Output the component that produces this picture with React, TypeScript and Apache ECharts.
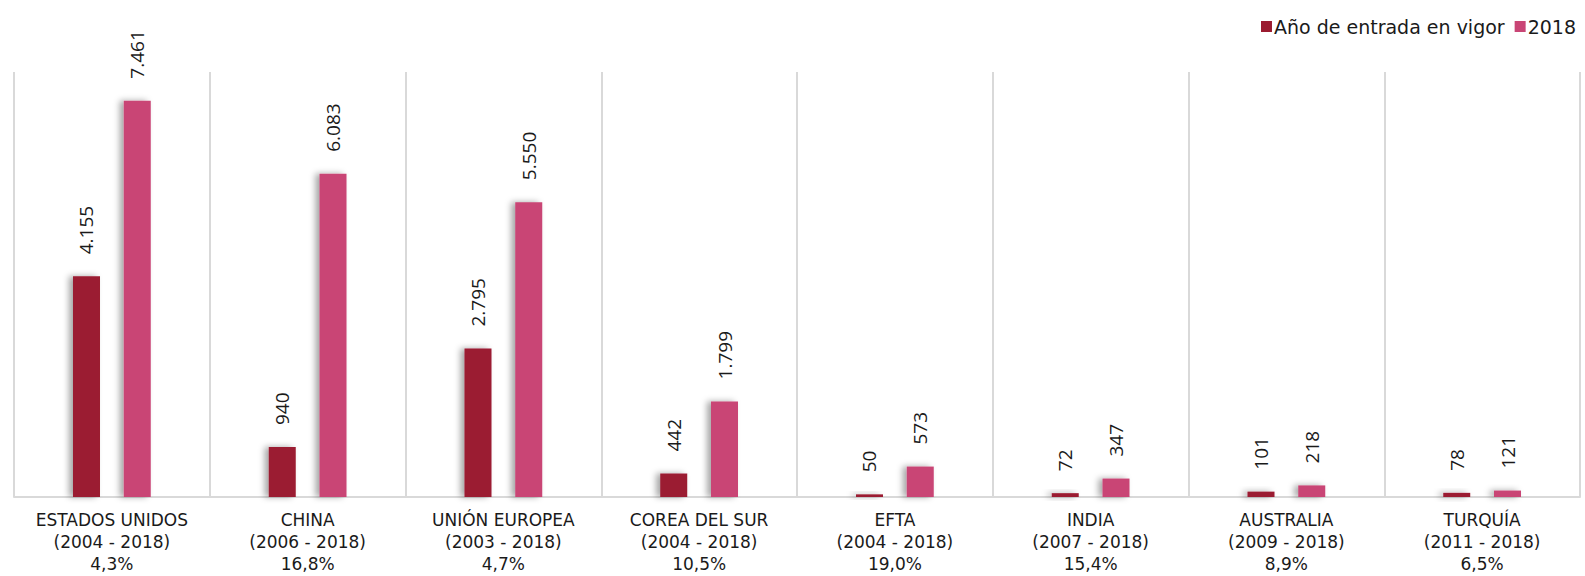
import React, { useEffect, useRef } from "react";
import * as echarts from "echarts";

const countries = ["ESTADOS UNIDOS", "CHINA", "UNIÓN EUROPEA", "COREA DEL SUR", "EFTA", "INDIA", "AUSTRALIA", "TURQUÍA"];
const periods = ["(2004 - 2018)", "(2006 - 2018)", "(2003 - 2018)", "(2004 - 2018)", "(2004 - 2018)", "(2007 - 2018)", "(2009 - 2018)", "(2011 - 2018)"];
const growthRates = ["4,3%", "16,8%", "4,7%", "10,5%", "19,0%", "15,4%", "8,9%", "6,5%"];
const entryYearValues = [4155, 940, 2795, 442, 50, 72, 101, 78];
const values2018 = [7461, 6083, 5550, 1799, 573, 347, 218, 121];
const seriesNames = ["Año de entrada en vigor", "2018"];

const fmt = (v: number) => String(v).replace(/\B(?=(\d{3})+(?!\d))/g, ".");

export default function App() {
  const ref = useRef<HTMLDivElement>(null);
  useEffect(() => {
    const chart = echarts.init(ref.current!, undefined, { renderer: "svg" });
    const font = "'Open Sans', sans-serif";
    const wide = "'DejaVu Sans', sans-serif";
    const labelCfg = {
      show: true,
      position: "top",
      rotate: 90,
      align: "left",
      verticalAlign: "middle",
      distance: 22,
      fontFamily: font,
      fontSize: 19,
      color: "#1a1a1a",
      formatter: (p: any) => fmt(p.value),
    };
    const shadow = {
      shadowColor: "rgba(0,0,0,0.35)",
      shadowBlur: 6,
      shadowOffsetX: -4,
      shadowOffsetY: 0,
    };
    chart.setOption({
      animation: false,
      legend: {
        right: 4,
        top: 12,
        itemWidth: 11,
        itemHeight: 11,
        itemGap: 10,
        icon: "rect",
        textStyle: { fontFamily: wide, fontSize: 19, color: "#1a1a1a", padding: [0, 0, 0, -3] },
        data: seriesNames,
      },
      grid: { left: 14, right: 5, top: 72, bottom: 79 },
      xAxis: {
        type: "category",
        data: countries.map((c, i) => c + "\n" + periods[i] + "\n" + growthRates[i]),
        axisLine: { lineStyle: { color: "#d9d9d9", width: 2 } },
        axisTick: { show: false },
        splitLine: { show: true, lineStyle: { color: "#d9d9d9", width: 2 } },
        axisLabel: {
          fontFamily: wide,
          fontSize: 17,
          lineHeight: 22,
          color: "#1a1a1a",
          margin: 12,
          interval: 0,
        },
      },
      yAxis: {
        type: "value",
        min: 0,
        max: 8000,
        show: false,
        splitLine: { show: false },
      },
      series: [
        {
          name: seriesNames[0],
          type: "bar",
          data: entryYearValues,
          barWidth: 27,
          barGap: "88%",
          itemStyle: { color: "#9b1b30", ...shadow },
          label: labelCfg,
        },
        {
          name: seriesNames[1],
          type: "bar",
          data: values2018,
          barWidth: 27,
          itemStyle: { color: "#c94575", ...shadow },
          label: labelCfg,
        },
      ],
    });
    return () => chart.dispose();
  }, []);
  return <div ref={ref} style={{ width: 1585, height: 576, position: "absolute", left: 0, top: 0 }} />;
}
